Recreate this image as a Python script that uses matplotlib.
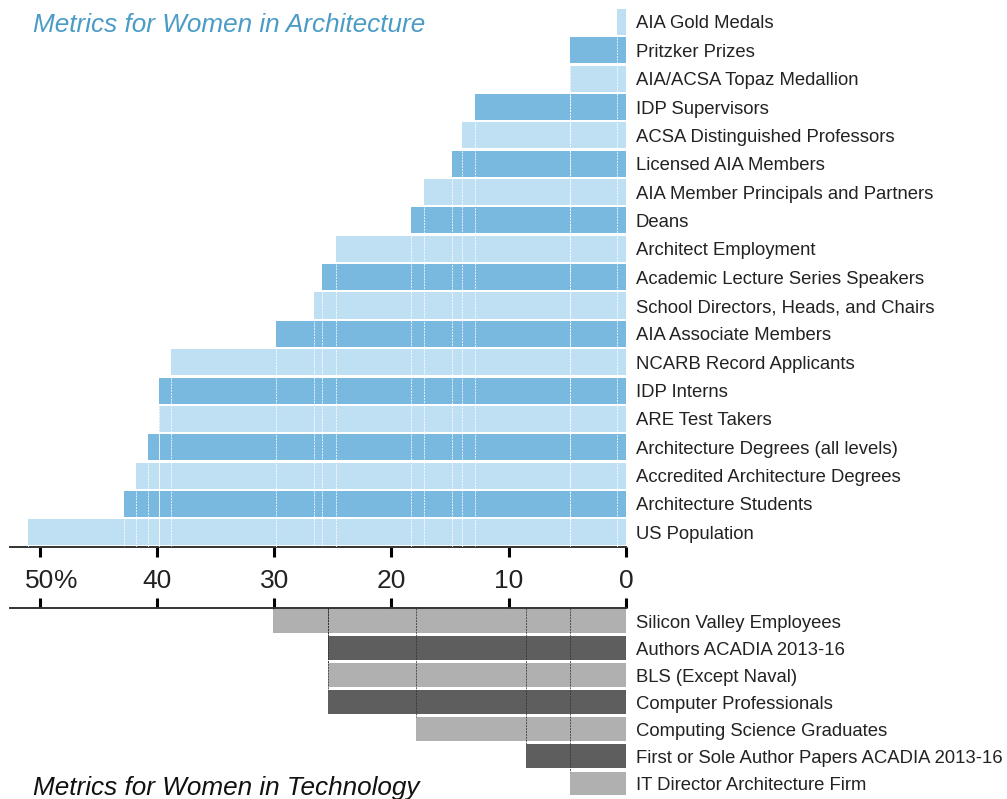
import matplotlib
matplotlib.use('Agg')
import matplotlib.pyplot as plt
import numpy as np

# data (percent women)
arch_labels = ['AIA Gold Medals', 'Pritzker Prizes', 'AIA/ACSA Topaz Medallion',
               'IDP Supervisors', 'ACSA Distinguished Professors', 'Licensed AIA Members',
               'AIA Member Principals and Partners', 'Deans', 'Architect Employment',
               'Academic Lecture Series Speakers', 'School Directors, Heads, and Chairs',
               'AIA Associate Members', 'NCARB Record Applicants', 'IDP Interns',
               'ARE Test Takers', 'Architecture Degrees (all levels)',
               'Accredited Architecture Degrees', 'Architecture Students', 'US Population']
arch_values = [0.8, 4.8, 4.8, 12.9, 14.0, 14.8, 17.2, 18.3, 24.7, 25.9, 26.6,
               29.8, 38.8, 39.8, 39.8, 40.75, 41.8, 42.8, 51.0]

tech_labels = ['Silicon Valley Employees', 'Authors ACADIA 2013-16', 'BLS (Except Naval)',
               'Computer Professionals', 'Computing Science Graduates',
               'First or Sole Author Papers ACADIA 2013-16', 'IT Director Architecture Firm']
tech_values = [30.1, 25.4, 25.4, 25.4, 17.9, 8.5, 4.8]

xticks = [50, 40, 30, 20, 10, 0]
xtick_labels = ['50', '40', '30', '20', '10', '0']

light_blue = '#bfdff2'
dark_blue = '#79b9e0'
light_gray = '#b0b0b0'
dark_gray = '#5e5e5e'
plt.rcParams['font.family'] = ['Liberation Sans', 'DejaVu Sans']

W, H = 1007, 799
fig = plt.figure(figsize=(W / 100, H / 100), dpi=100)

left = 10 / W
width = 616 / W
xmax = (625 - 10) / 11.71
lab_size = 13.3
tick_size = 19

def fy(top_px, bot_px):
    return 1 - bot_px / H, (bot_px - top_px) / H

b, h = fy(7.8, 546.5)
ax1 = fig.add_axes([left, b, width, h])
b, h = fy(607.5, 797)
ax2 = fig.add_axes([left, b, width, h])

# architecture
n = len(arch_values)
y = np.arange(n)
cols = [light_blue if i % 2 == 0 else dark_blue for i in range(n)]
ax1.barh(y, arch_values, height=0.92, color=cols, zorder=2)
for i, v in enumerate(arch_values):
    ax1.vlines(v, i + 0.46, n - 0.5, colors='white', linestyles=(0, (2, 1)),
               lw=0.7, alpha=0.8, zorder=3)
ax1.set_ylim(n - 0.5, -0.5)
ax1.set_xlim(xmax, 0)
ax1.set_yticks(y)
ax1.set_yticklabels(arch_labels)
ax1.yaxis.tick_right()
ax1.tick_params(axis='y', length=0, pad=7, labelsize=lab_size, labelcolor='#222222')
ax1.set_xticks(xticks)
ax1.set_xticklabels(xtick_labels)
ax1.tick_params(axis='x', direction='out', length=7, width=2.2, pad=9,
                labelsize=tick_size, labelcolor='#222222')
for s in ['top', 'left', 'right']:
    ax1.spines[s].set_visible(False)
ax1.spines['bottom'].set_linewidth(1.4)
ax1.spines['bottom'].set_color('#333333')
# percent sign hangs after the "50" so the number stays centred on its tick
first = ax1.get_xticklabels()[0]
ax1.annotate('%', xy=(1, 0), xycoords=first, ha='left', va='bottom',
             fontsize=tick_size, color='#222222')

# technology
m = len(tech_values)
y2 = np.arange(m)
cols2 = [light_gray if i % 2 == 0 else dark_gray for i in range(m)]
ax2.barh(y2, tech_values, height=0.88, color=cols2, zorder=2)
for i, v in enumerate(tech_values):
    ax2.vlines(v, -0.5, i - 0.44, colors='#333333', linestyles=(0, (2, 1)),
               lw=0.7, alpha=0.8, zorder=3)
ax2.set_ylim(m - 0.5, -0.5)
ax2.set_xlim(xmax, 0)
ax2.set_yticks(y2)
ax2.set_yticklabels(tech_labels)
ax2.yaxis.tick_right()
ax2.tick_params(axis='y', length=0, pad=7, labelsize=lab_size, labelcolor='#222222')
ax2.set_xticks(xticks)
ax2.xaxis.tick_top()
ax2.tick_params(axis='x', direction='out', length=7, width=2.2, labeltop=False)
for s in ['bottom', 'left', 'right']:
    ax2.spines[s].set_visible(False)
ax2.spines['top'].set_linewidth(1.4)
ax2.spines['top'].set_color('#333333')

fig.text(33 / W, 1 - 32 / H, 'Metrics for Women in Architecture', fontsize=18.8,
         style='italic', color='#4a9cc6', va='baseline', ha='left')
fig.text(33 / W, 1 - 795 / H, 'Metrics for Women in Technology', fontsize=18.8,
         style='italic', color='#111111', va='baseline', ha='left')

fig.savefig('out.png', dpi=100)
